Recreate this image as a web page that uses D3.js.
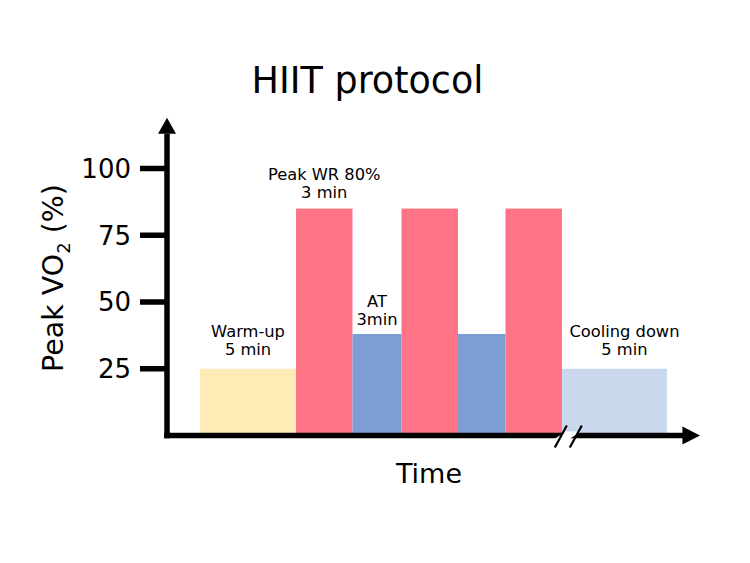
<!DOCTYPE html>
<html>
<head>
<meta charset="utf-8">
<script src="https://cdn.jsdelivr.net/npm/d3@7"></script>
<style>
  html, body { margin: 0; padding: 0; background: #fff; }
  text { font-family: "DejaVu Sans", Verdana, sans-serif; fill: #000; }
</style>
</head>
<body>
<svg id="chart" width="750" height="563"></svg>
<script>
// ---- data ----
const phases      = ["Warm-up", "Peak WR 1", "AT 1", "Peak WR 2", "AT 2", "Peak WR 3", "Cooling down"];
const phaseStart  = [6.2, 24.2, 34.8, 44.0, 54.6, 63.5, 74.1];   // time position (relative units)
const phaseEnd    = [24.2, 34.8, 44.0, 54.6, 63.5, 74.1, 93.8];
const peakVO2     = [25, 85, 38, 85, 38, 85, 25];                 // % of peak VO2
const phaseKind   = ["warm", "peak", "at", "peak", "at", "peak", "cool"];
const yTicks      = [25, 50, 75, 100];
const labels      = [
  { lines: ["Warm-up", "5 min"],      phase: 0, value: 25, dx: 0,  dy: -32 },
  { lines: ["Peak WR 80%", "3 min"],  phase: 1, value: 85, dx: 0,  dy: -28.5 },
  { lines: ["AT", "3min"],            phase: 2, value: 38, dx: 0,  dy: -27 },
  { lines: ["Cooling down", "5 min"], phase: 6, value: 25, dx: 10, dy: -32 }
];
const breakAt = 75.2;

// ---- layout ----
const colors = { warm: "#feebb6", peak: "#ff7386", at: "#7c9ed4", cool: "#cad8ee" };
const svg = d3.select("#chart");
const x = d3.scaleLinear().domain([0, 100]).range([167, 700]);
const y = d3.scaleLinear().domain([0, 100]).range([435.5, 168.5]);

// bars
svg.append("g").selectAll("rect")
  .data(phases.map((p, i) => ({ p, s: phaseStart[i], e: phaseEnd[i], v: peakVO2[i], k: phaseKind[i] })))
  .join("rect")
  .attr("x", d => x(d.s))
  .attr("width", d => x(d.e) - x(d.s))
  .attr("y", d => y(d.v))
  .attr("height", d => y(0) - y(d.v))
  .attr("fill", d => colors[d.k]);

// axes
const axisW = 5.5;
svg.append("line")
  .attr("x1", x(0)).attr("x2", x(0))
  .attr("y1", y(0) + axisW / 2).attr("y2", y(113))
  .attr("stroke", "#000").attr("stroke-width", axisW);
svg.append("path")
  .attr("d", `M${x(0) - 9},${y(113)} L${x(0) + 9},${y(113)} L${x(0)},${y(119)} Z`)
  .attr("fill", "#000");
svg.append("line")
  .attr("x1", x(0) - axisW / 2).attr("x2", x(97))
  .attr("y1", y(0)).attr("y2", y(0))
  .attr("stroke", "#000").attr("stroke-width", axisW);
svg.append("path")
  .attr("d", `M${x(96.7)},${y(0) - 9} L${x(96.7)},${y(0) + 9} L${x(100)},${y(0)} Z`)
  .attr("fill", "#000");

// y ticks
const tg = svg.append("g").selectAll("g").data(yTicks).join("g")
  .attr("transform", d => `translate(0,${y(d)})`);
tg.append("line").attr("x1", x(0) - 27).attr("x2", x(0))
  .attr("stroke", "#000").attr("stroke-width", axisW);
tg.append("text").attr("x", x(0) - 36).attr("y", 0).attr("dy", "0.36em")
  .attr("text-anchor", "end").attr("font-size", 26).text(d => d);

// axis break
const bx = x(breakAt);
svg.append("path")
  .attr("d", `M${bx - 14},${y(0) + 4} L${bx - 2},${y(0) - 4} L${bx + 13},${y(0) - 4} L${bx + 1},${y(0) + 4} Z`)
  .attr("fill", "#fff");
[-7, 8].forEach(o => {
  svg.append("line")
    .attr("x1", bx + o - 6).attr("y1", y(0) + 12)
    .attr("x2", bx + o + 6).attr("y2", y(0) - 10)
    .attr("stroke", "#000").attr("stroke-width", 2.2);
});

// phase labels
const lg = svg.append("g").selectAll("text").data(labels).join("text")
  .attr("text-anchor", "middle").attr("font-size", 16.3)
  .attr("transform", d => `translate(${(x(phaseStart[d.phase]) + x(phaseEnd[d.phase])) / 2 + d.dx},${y(d.value) + d.dy})`);
lg.selectAll("tspan").data(d => d.lines).join("tspan")
  .attr("x", 0).attr("y", (d, i) => i * 18).text(d => d);

// title
svg.append("text").attr("x", 367.5).attr("y", 93)
  .attr("text-anchor", "middle").attr("font-size", 36.5).text("HIIT protocol");

// x axis label
svg.append("text").attr("x", 429).attr("y", 483)
  .attr("text-anchor", "middle").attr("font-size", 27).text("Time");

// y axis label
const yl = svg.append("text")
  .attr("transform", `translate(63,278) rotate(-90)`)
  .attr("text-anchor", "middle").attr("font-size", 28.5);
yl.append("tspan").text("Peak VO");
yl.append("tspan").attr("font-size", 18).attr("dy", 7).text("2");
yl.append("tspan").attr("dy", -7).text(" (%)");
</script>
</body>
</html>
